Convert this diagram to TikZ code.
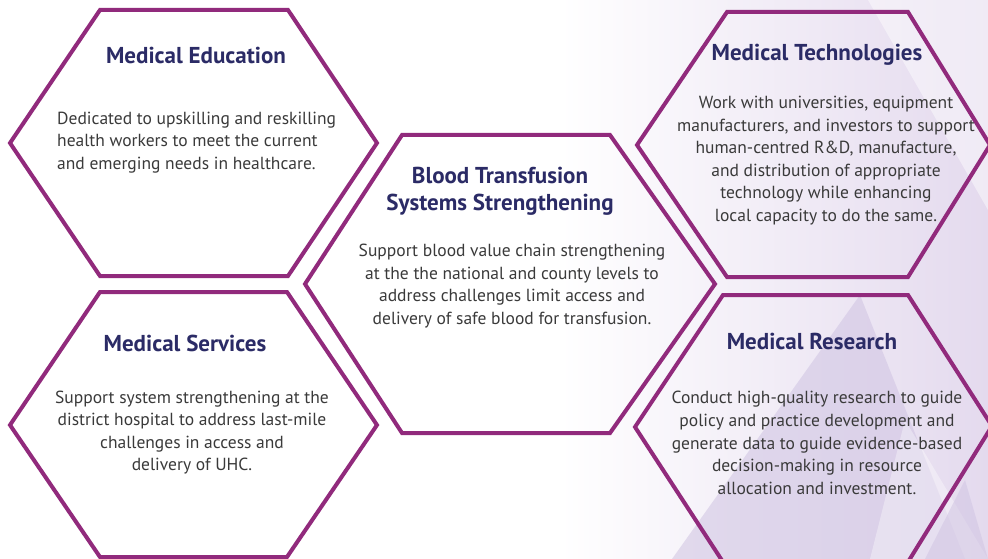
\documentclass[tikz,border=0pt]{standalone}
\usepackage{fontspec}
\setmainfont{PT Sans}
\definecolor{hexline}{HTML}{912A7C}
\definecolor{titlecol}{HTML}{2B2B66}
\definecolor{bodycol}{HTML}{3A3A3A}
\definecolor{lav}{HTML}{E4DAEE}
\definecolor{lavdark}{HTML}{CFC3E2}
\tikzset{
  hexbox/.style={draw=hexline, line width=4pt, line join=miter},
  titletext/.style={text=titlecol, font=\fontsize{23}{27}\selectfont\bfseries, inner sep=0pt, align=center},
  bodytext/.style={text=bodycol, font=\fontsize{17.5}{22.6}\selectfont, inner sep=0pt, align=center},
}
\begin{document}
\begin{tikzpicture}[x=1pt,y=-1pt]
\useasboundingbox (0,0) rectangle (988,559);
% background
\fill[white] (0,0) rectangle (988,559);
\begin{scope}
\clip (0,0) rectangle (988,559);
\shade[left color=white, right color=lav] (560,0) -- (988,0) -- (988,559) -- (560,559) -- cycle;
\fill[lavdark, opacity=0.55] (860,295) -- (672,559) -- (965,559) -- cycle;
\fill[white, opacity=0.45] (868,0) -- (988,0) -- (988,210) -- cycle;
\fill[white, opacity=0.35] (905,420) -- (870,559) -- (988,559) -- cycle;
\fill[lavdark, opacity=0.5] (965,480) -- (925,559) -- (988,559) -- cycle;
% hexagons
\draw[hexbox] (100,10) -- (288,10) -- (377,143) -- (288,276) -- (100,276) -- (10,143) -- cycle;
\draw[hexbox] (100,292) -- (287,292) -- (377,425) -- (287,557) -- (100,557) -- (10,425) -- cycle;
\draw[hexbox] (402,135) -- (610,135) -- (715,284) -- (610,433) -- (402,433) -- (305,284) -- cycle;
\draw[hexbox] (727,12) -- (908,12) -- (990,145) -- (908,277) -- (727,277) -- (637,145) -- cycle;
\draw[hexbox] (723,295) -- (908,295) -- (992,426) -- (908,562) -- (723,562) -- (635,427) -- cycle;
\end{scope}
% texts
\node[titletext] (t1) at (196,55) {Medical Education};
\node[bodytext, anchor=west, align=left] (b1) at (57,142.5) {Dedicated to upskilling and reskilling\\health workers to meet the current\\and emerging needs in healthcare.};
\node[titletext] (t2) at (185,343) {Medical Services};
\node[bodytext] (b2) at (192,432.5) {Support system strengthening at the\\district hospital to address last-mile\\challenges in access and\\delivery of UHC.};
\node[titletext] (t3) at (500,191.5) {Blood Transfusion\\Systems Strengthening};
\node[bodytext] (b3) at (512,286) {Support blood value chain strengthening\\at the the national and county levels to\\address challenges limit access and\\delivery of safe blood for transfusion.};
\node[titletext] (t4) at (817,55) {Medical Technologies};
\node[bodytext] (b4) at (826,160.5) {Work with universities, equipment\\manufacturers, and investors to support\\human-centred R\&D, manufacture,\\and distribution of appropriate\\technology while enhancing\\local capacity to do the same.};
\node[titletext] (t5) at (812,341) {Medical Research};
\node[bodytext] (b5) at (817,443) {Conduct high-quality research to guide\\policy and practice development and\\generate data to guide evidence-based\\decision-making in resource\\allocation and investment.};
\end{tikzpicture}
\end{document}
